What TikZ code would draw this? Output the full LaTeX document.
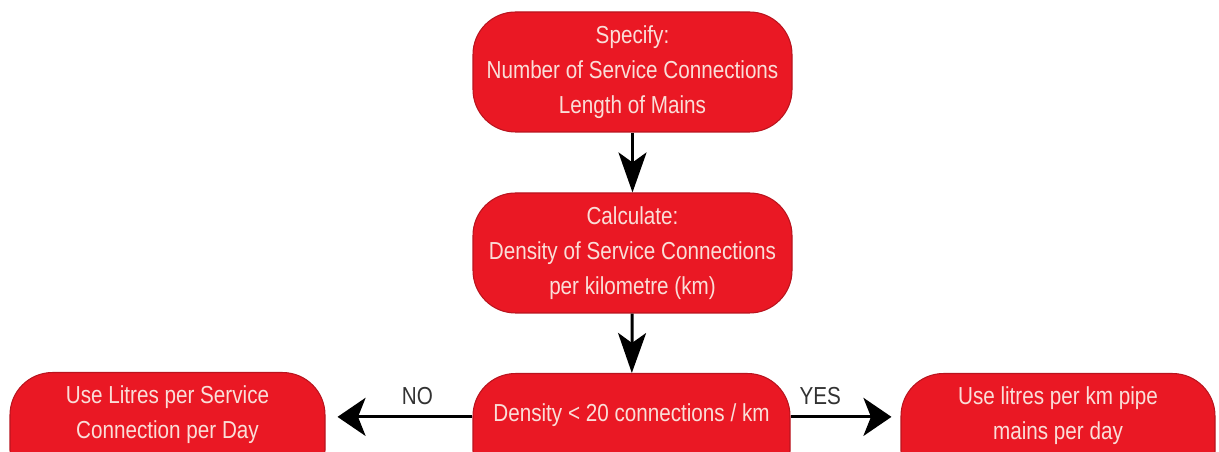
\documentclass[tikz,border=0pt]{standalone}
\usepackage{fontspec}
\setmainfont[FakeStretch=0.84]{Liberation Sans}
\usetikzlibrary{arrows.meta}
\definecolor{boxred}{RGB}{234,24,36}
\definecolor{boxedge}{RGB}{185,20,30}
\definecolor{boxtext}{RGB}{250,222,216}
\definecolor{labelgray}{RGB}{50,50,50}

\begin{document}
\begin{tikzpicture}
	\useasboundingbox (0,0) rectangle (24.38,9.04);
	\clip (0,0) rectangle (24.38,9.04);
	\begin{scope}[every node/.style={rectangle, rounded corners=0.85cm, fill=boxred, draw=boxedge, line width=0.6pt, text=boxtext, align=center, minimum height=2.4cm, font=\fontsize{14}{20}\selectfont}]
		\node[minimum width=6.38cm] (Specify) at (12.65,7.6) {Specify:\\Number of Service Connections\\Length of Mains};
		\node[minimum width=6.38cm] (Calculate) at (12.65,3.98) {Calculate:\\Density of Service Connections\\per kilometre (km)};
		\node[minimum width=6.34cm, anchor=north, text height=0.4cm, text depth=0.88cm] (Density) at (12.63,1.58) {Density < 20 connections / km};
			\node[minimum width=6.3cm, anchor=north, text height=0.9cm, text depth=0.66cm] (Per connection) at (3.35,1.6) {Use Litres per Service\\Connection per Day};
			\node[minimum width=6.28cm, anchor=north, text height=0.9cm, text depth=0.66cm] (Per km) at (21.16,1.58) {Use litres per km pipe\\mains per day};
	\end{scope}
	\begin{scope}[line width=1.7pt, vflow/.style={>={Stealth[black, length=0.8cm, width=0.56cm, inset=0.2cm]}}, hflow/.style={>={Stealth[black, length=0.56cm, width=0.76cm, inset=0.15cm]}}, every node/.append style={text=labelgray, font=\fontsize{14}{20}\selectfont}]
	\path [->, vflow] (Specify) edge (Calculate);
	\path [->, vflow] (Calculate) edge (Density);

	\path [->, hflow, shorten >=0.24cm] (Density.mid west) edge node[pos=0.375, above=3pt] {NO} (Per connection.east |- Density.mid west);
	\path [->, hflow, shorten >=0.18cm] (Density.mid east) edge node[pos=0.27, above=3pt] {YES} (Per km.west |- Density.mid east);
	\end{scope}
\end{tikzpicture}
\end{document}
